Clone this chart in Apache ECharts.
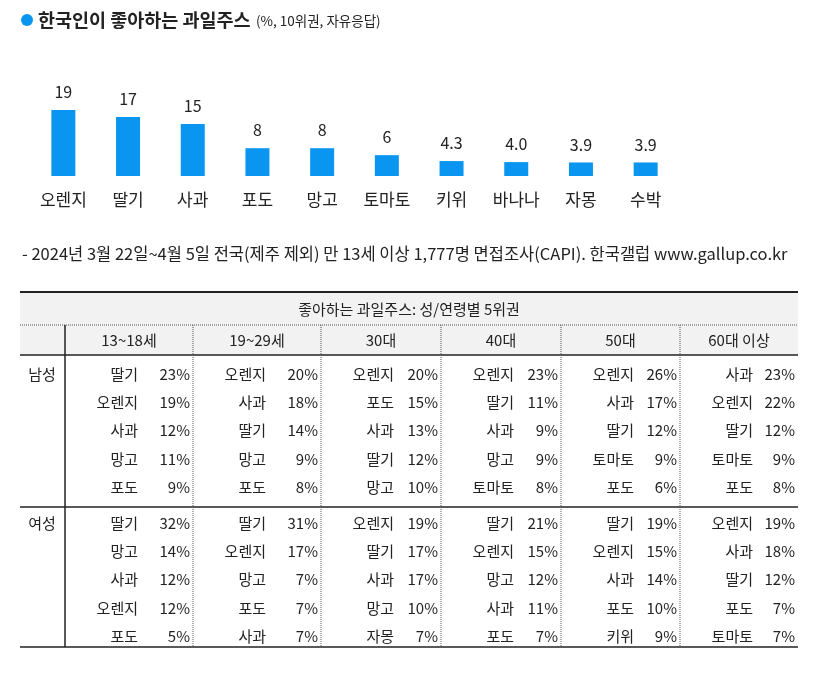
<!DOCTYPE html>
<html><head><meta charset="utf-8">
<script src="https://cdn.jsdelivr.net/npm/echarts@6/dist/echarts.min.js"></script>
<style>html,body{margin:0;background:#fff}#main{width:814px;height:699px}</style>
</head><body><div id="main"></div>
<script>
var fruits = ['오렌지', '딸기', '사과', '포도', '망고', '토마토', '키위', '바나나', '자몽', '수박'];
var shares = [19, 17, 15, 8, 8, 6, 4.3, 4.0, 3.9, 3.9];
var shareLabels = ['19', '17', '15', '8', '8', '6', '4.3', '4.0', '3.9', '3.9'];
var ageGroups = ['13~18세', '19~29세', '30대', '40대', '50대', '60대 이상'];
var genders = ['남성', '여성'];
var maleTop = [
  [['딸기', 23], ['오렌지', 19], ['사과', 12], ['망고', 11], ['포도', 9]],
  [['오렌지', 20], ['사과', 18], ['딸기', 14], ['망고', 9], ['포도', 8]],
  [['오렌지', 20], ['포도', 15], ['사과', 13], ['딸기', 12], ['망고', 10]],
  [['오렌지', 23], ['딸기', 11], ['사과', 9], ['망고', 9], ['토마토', 8]],
  [['오렌지', 26], ['사과', 17], ['딸기', 12], ['토마토', 9], ['포도', 6]],
  [['사과', 23], ['오렌지', 22], ['딸기', 12], ['토마토', 9], ['포도', 8]]
];
var femaleTop = [
  [['딸기', 32], ['망고', 14], ['사과', 12], ['오렌지', 12], ['포도', 5]],
  [['딸기', 31], ['오렌지', 17], ['망고', 7], ['포도', 7], ['사과', 7]],
  [['오렌지', 19], ['딸기', 17], ['사과', 17], ['망고', 10], ['자몽', 7]],
  [['딸기', 21], ['오렌지', 15], ['망고', 12], ['사과', 11], ['포도', 7]],
  [['딸기', 19], ['오렌지', 15], ['사과', 14], ['포도', 10], ['키위', 9]],
  [['오렌지', 19], ['사과', 18], ['딸기', 12], ['포도', 7], ['토마토', 7]]
];

var FONT = '"Noto Sans CJK KR", "Noto Sans", sans-serif';
var myChart = echarts.init(document.getElementById('main'));

// table geometry
var colX = [65, 193, 321, 441, 561, 680, 798];
var tL = 20, tR = 798;
var g = [];
function txt(x, y, s, align, size, weight) {
  g.push({ type: 'text', x: x, y: y, style: { text: s, fill: '#222', font: (weight || 'normal') + ' ' + (size || 15) + 'px ' + FONT, textAlign: align || 'left', textVerticalAlign: 'middle' } });
}
function line(x1, y1, x2, y2, w, dash) {
  g.push({ type: 'line', shape: { x1: x1, y1: y1, x2: x2, y2: y2 }, style: { stroke: dash ? '#555' : '#222', lineWidth: w || 1, lineDash: dash ? [1, 1] : null } });
}
g.push({ type: 'rect', shape: { x: tL, y: 292, width: tR - tL, height: 63 }, style: { fill: '#f2f2f2' } });
line(tL, 292, tR, 292, 2);
line(tL, 325, tR, 325, 1, true);
line(tL, 355, tR, 355, 1.5);
line(tL, 507, tR, 507, 1.5);
line(tL, 647, tR, 647, 1.5);
line(65, 325, 65, 647, 1.5);
for (var i = 1; i < 6; i++) line(colX[i], 325, colX[i], 647, 1, true);
txt(409, 309, '좋아하는 과일주스: 성/연령별 5위권', 'center');
ageGroups.forEach(function (a, i) { txt((colX[i] + colX[i + 1]) / 2, 340, a, 'center'); });
[[maleTop, 374], [femaleTop, 523]].forEach(function (blk, gi) {
  txt(42, blk[1], genders[gi], 'center');
  blk[0].forEach(function (col, ci) {
    col.forEach(function (r, ri) {
      var y = blk[1] + ri * 28.3;
      txt(colX[ci] + 73, y, r[0], 'right');
      txt(colX[ci + 1] - 3, y, r[1] + '%', 'right');
    });
  });
});
g.push({ type: 'circle', shape: { cx: 27, cy: 20, r: 6 }, style: { fill: '#0a96f0' } });
txt(38, 20, '한국인이 좋아하는 과일주스', 'left', 18.5, 'bold');
txt(256, 21, '(%, 10위권, 자유응답)', 'left', 13.5);
txt(22, 254, '- 2024년 3월 22일~4월 5일 전국(제주 제외) 만 13세 이상 1,777명 면접조사(CAPI). 한국갤럽 www.gallup.co.kr', 'left', 16.5);

var option = {
  animation: false,
  grid: { left: 31, width: 647, top: 110, height: 66 },
  xAxis: {
    type: 'category', data: fruits,
    axisLine: { show: false }, axisTick: { show: false },
    axisLabel: { color: '#222', fontSize: 17, fontFamily: FONT, margin: 15 }
  },
  yAxis: { type: 'value', min: 0, max: 19, show: false, splitLine: { show: false } },
  series: [{
    type: 'bar', data: shares, barWidth: 24,
    itemStyle: { color: '#0a96f0' },
    label: {
      show: true, position: 'top', distance: 10, color: '#222', fontSize: 16, fontFamily: FONT,
      formatter: function (p) { return shareLabels[p.dataIndex]; }
    }
  }],
  graphic: g
};
myChart.setOption(option);
</script></body></html>
